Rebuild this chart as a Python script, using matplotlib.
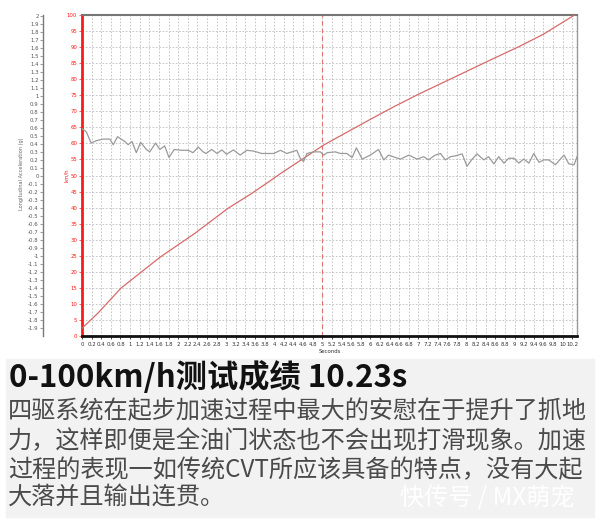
import numpy as np
import matplotlib
matplotlib.use("Agg")
import matplotlib.pyplot as plt
from matplotlib.patches import Rectangle

# speed trace (km/h) vs time (s)
t_speed = [0, 0.33, 0.81, 1.24, 1.62, 2.0, 2.35, 3.04, 3.53, 3.94, 4.13, 5.03,
           6.0, 6.5, 7.0, 7.8, 8.5, 9.1, 9.6, 10.25]
v_speed = [2.4, 7.1, 14.9, 20.0, 24.5, 28.4, 32.0, 39.8, 44.4, 48.6, 50.6, 59.5,
           67.5, 71.5, 75.3, 81.0, 86.0, 90.2, 94.0, 100.0]

# longitudinal acceleration (g) vs time (s)
t_acc = [0.00, 0.09, 0.19, 0.30, 0.44, 0.58, 0.65, 0.74, 0.89, 0.96, 1.04, 1.13,
         1.22, 1.34, 1.41, 1.53, 1.62, 1.72, 1.81, 1.92, 2.07, 2.21, 2.31, 2.42,
         2.52, 2.58, 2.70, 2.81, 2.91, 3.01, 3.15, 3.29, 3.43, 3.57, 3.74, 3.99,
         4.13, 4.26, 4.47, 4.54, 4.61, 4.68, 4.82, 4.96, 5.03, 5.10, 5.27, 5.38,
         5.51, 5.62, 5.71, 5.83, 6.00, 6.17, 6.28, 6.38, 6.52, 6.63, 6.80, 6.97,
         7.11, 7.21, 7.35, 7.46, 7.56, 7.67, 7.77, 7.91, 8.01, 8.12, 8.22, 8.36,
         8.46, 8.57, 8.67, 8.78, 8.88, 8.99, 9.09, 9.19, 9.30, 9.40, 9.51, 9.61,
         9.71, 9.85, 10.03, 10.13, 10.24, 10.30]
g_acc = [0.59, 0.55, 0.41, 0.44, 0.46, 0.46, 0.39, 0.49, 0.43, 0.39, 0.43, 0.29,
         0.42, 0.33, 0.30, 0.41, 0.33, 0.375, 0.23, 0.33, 0.32, 0.32, 0.29, 0.36,
         0.30, 0.28, 0.33, 0.28, 0.325, 0.27, 0.325, 0.26, 0.32, 0.31, 0.28, 0.28,
         0.32, 0.28, 0.32, 0.22, 0.18, 0.28, 0.30, 0.30, 0.26, 0.29, 0.30, 0.28,
         0.28, 0.23, 0.35, 0.21, 0.26, 0.33, 0.20, 0.26, 0.23, 0.21, 0.26, 0.21,
         0.24, 0.20, 0.26, 0.28, 0.20, 0.24, 0.25, 0.275, 0.12, 0.21, 0.275, 0.20,
         0.24, 0.15, 0.24, 0.16, 0.22, 0.22, 0.16, 0.21, 0.16, 0.28, 0.17, 0.20,
         0.20, 0.14, 0.26, 0.15, 0.14, 0.24]

x_ticks = np.round(np.arange(0, 10.21, 0.2), 1)
v_ticks = np.arange(0, 101, 5)
g_ticks = np.round(np.arange(-1.9, 2.01, 0.1), 1)

title = "0-100km/h测试成绩 10.23s"
body = ["四驱系统在起步加速过程中最大的安慰在于提升了抓地",
        "力，这样即便是全油门状态也不会出现打滑现象。加速",
        "过程的表现一如传统CVT所应该具备的特点，没有大起",
        "大落并且输出连贯。"]
mark = "快传号 / MX萌宠"

RED = "#ff1a1a"; LRED = "#d66a6a"; GREY = "#9a9a9a"
fs_tick = 3.9

fig = plt.figure(figsize=(6, 5.21), dpi=100)
W, H = 600, 521
ax = fig.add_axes([82 / W, 1 - 336 / H, 495 / W, 321 / H])
ax.set_xlim(0, 10.3); ax.set_ylim(0, 100)
ax.set_xticks(x_ticks)
ax.set_xticklabels([f"{v:g}" for v in x_ticks], fontsize=fs_tick, color="#333")
ax.set_yticks(v_ticks)
ax.set_yticklabels([f"{v:g}" for v in v_ticks], fontsize=fs_tick, color=RED)
ax.tick_params(axis="x", length=2, width=0.5, pad=2)
ax.tick_params(axis="y", length=2, width=0.5, color=RED, pad=1.5)
ax.grid(True, color="#bdbdbd", ls=(0, (2, 2)), lw=0.6)
ax.spines["left"].set_color(RED); ax.spines["left"].set_linewidth(2)
ax.spines["bottom"].set_color("#111"); ax.spines["bottom"].set_linewidth(2)
ax.spines["top"].set_color("#777"); ax.spines["top"].set_linewidth(1.5)
ax.spines["right"].set_color("#999"); ax.spines["right"].set_linewidth(1)
ax.axvline(5, color="#e07070", ls=(0, (4, 3)), lw=0.8)
ax.plot(t_speed, v_speed, color=LRED, lw=0.9, zorder=3)
ax.set_xlabel("Seconds", fontsize=fs_tick, color="#333")
ax.xaxis.set_label_coords(0.5, -0.04)
ax.set_ylabel("km/h", fontsize=fs_tick, color=RED)
ax.yaxis.set_label_coords(-0.027, 0.5)

ax2 = ax.twinx()
ax2.set_ylim(-2.0, 2.01)
ax2.yaxis.set_ticks_position("left"); ax2.yaxis.set_label_position("left")
for s in ("right", "top", "bottom"):
    ax2.spines[s].set_visible(False)
ax2.spines["left"].set_visible(True)
ax2.spines["left"].set_position(("outward", 28))
ax2.spines["left"].set_color("#777"); ax2.spines["left"].set_linewidth(1)
ax2.set_yticks(g_ticks)
ax2.set_yticklabels([f"{v:g}" for v in g_ticks], fontsize=fs_tick, color="#555")
ax2.tick_params(axis="y", length=2, width=0.5, color="#777", pad=1.2)
ax2.plot(t_acc, g_acc, color=GREY, lw=0.9)
ax2.set_ylabel("Longitudinal Acceleration (g)", fontsize=fs_tick - 0.3, color="#666")
ax2.yaxis.set_label_coords(-0.118, 0.505)

# text panel below the chart
fig.patches.append(Rectangle((6 / W, 4 / H), 588 / W, (521 - 359 - 4) / H,
                             transform=fig.transFigure, color="#f2f2f2", zorder=0))
cjk = ["Noto Sans CJK SC", "DejaVu Sans"]
fig.text(9 / W, 1 - 378 / H, title, fontsize=22.5, weight="bold", color="#111",
         va="center", ha="left", family=cjk)
for i, line in enumerate(body):
    y = [411, 441, 470, 498][i]
    fig.text(8 / W, 1 - y / H, line, fontsize=17.4, color="#4a4a4a",
             va="center", ha="left", family=cjk)
fig.text(400 / W, 1 - 498 / H, mark, fontsize=17.4, color="white",
         va="center", ha="left", family=cjk)

fig.savefig("out.png", dpi=100)
